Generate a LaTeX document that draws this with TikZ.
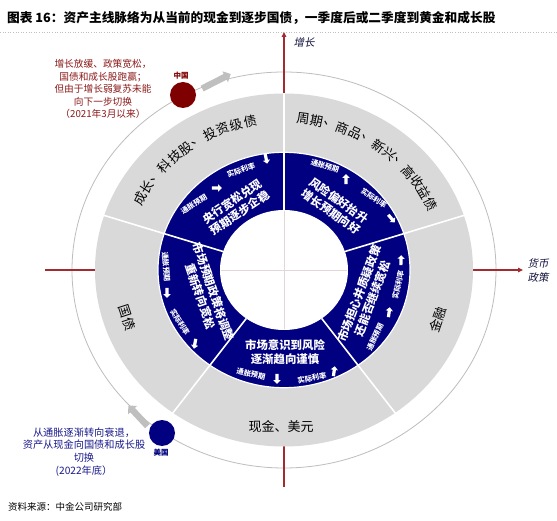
\documentclass[tikz,border=0pt]{standalone}
\usepackage{fontspec}
\setmainfont{Noto Sans CJK SC}
\newfontfamily\slantcjk[FakeSlant=0.2]{Noto Sans CJK SC}
\usetikzlibrary{shapes.arrows,arrows.meta}
\definecolor{navyring}{HTML}{000080}
\definecolor{ringgray}{HTML}{D9D9D9}
\definecolor{outline}{HTML}{BDBDBD}
\definecolor{axisred}{HTML}{A32A2E}
\definecolor{cnred}{HTML}{7F0000}
\definecolor{cntext}{HTML}{8B1A1A}
\definecolor{ustext}{HTML}{1A1A8C}
\definecolor{arrowgray}{HTML}{BFBFBF}
\definecolor{crossc}{HTML}{E3D6D6}
\definecolor{axislab}{HTML}{141440}
\tikzset{
  ringtxt/.style={font=\fontsize{13}{14}\selectfont, text=black, inner sep=0pt},
  navytxt/.style={font=\bfseries\fontsize{11.4}{13.8}\selectfont, text=white, align=center, inner sep=0pt},
  smalltxt/.style={font=\bfseries\fontsize{7.3}{8}\selectfont, text=white, inner sep=0pt},
  whitearrow/.style={single arrow, fill=white, draw=none, minimum height=10pt, inner sep=1.4pt, single arrow head extend=2pt},
  grayarrow/.style={single arrow, fill=arrowgray, draw=none, inner sep=3pt, single arrow head extend=3pt},
  axisline/.style={draw=axisred, line width=1.2pt},
  axislabel/.style={font=\slantcjk\fontsize{10.5}{14}\selectfont, text=axislab, align=center, inner sep=0pt},
}
\begin{document}
\begin{tikzpicture}[x=1pt,y=-1pt]
\useasboundingbox (0,0) rectangle (557,521);
\fill[white] (0,0) rectangle (557,521);

% title
\node[anchor=west, font=\bfseries\fontsize{12.7}{14}\selectfont, inner sep=0pt] (title) at (7,18) {图表 16：资产主线脉络为从当前的现金到逐步国债，一季度后或二季度到黄金和成长股};
\draw[black!25, dotted, line width=0.6pt] (0,32) -- (557,32);

% axes coordinates
\coordinate (ytop) at (284,32);
\coordinate (ybot) at (284,487);
\coordinate (xleft) at (45,270);
\coordinate (xright) at (523,270);

\begin{scope}[shift={(284,270)}, x=1pt, y=0.934pt]
  \draw[outline, line width=0.8pt] (0,0) circle [x radius=212pt, y radius=198pt];
\end{scope}

\draw[axisline, -{Triangle[width=4.5pt,length=5pt]}] (ybot) -- (ytop);
\draw[axisline, -{Triangle[width=4.5pt,length=5pt]}] (xleft) -- (xright);

\begin{scope}[shift={(284,270)}, x=1pt, y=0.934pt]
  \fill[ringgray] (0,0) circle [x radius=189pt, y radius=176.5pt];
  \filldraw[fill=navyring, draw=white, line width=1.2pt] (0,0) circle [x radius=126pt, y radius=117.7pt];
  \fill[white] (0,0) circle [x radius=64pt, y radius=60pt];
  \foreach \a in {18,90,162,234,306} {
    \draw[white, line width=1.6pt] (\a:64) -- (\a:189.5);
  }
  \draw[crossc, line width=0.8pt] (-63,0) -- (63,0);
  \draw[crossc, line width=0.8pt] (0,-63) -- (0,63);

  % gray ring texts along arcs
  \foreach \c [count=\i from 0] in {成,长,、,科,技,股,、,投,资,级,债} {
    \pgfmathsetmacro\ang{127+(5-\i)*5}
    \node[ringtxt, rotate=\ang-90] (ga\i) at (\ang:163) {\c};
  }
  \foreach \c [count=\i from 0] in {周,期,、,商,品,、,新,兴,、,高,收,益,债} {
    \pgfmathsetmacro\ang{54.5+(6-\i)*4.8}
    \node[ringtxt, rotate=\ang-90] (gb\i) at (\ang:163) {\c};
  }
  \node[ringtxt, rotate=71] (jinrong) at (-19:163) {金融};
  \node[ringtxt, rotate=-72] (guozhai) at (198:165) {国债};
\end{scope}
\node[ringtxt] (xianjin) at (281,427) {现金、美元};

% navy ring main texts
\node[navytxt, rotate=34] (n1) at (236,207) {央行宽松兑现\\预期逐步企稳};
\node[navytxt, rotate=-35] (n2) at (335,206) {风险偏好抬升\\增长预期向好};
\node[navytxt, rotate=69] (n3) at (366,296) {市场担心并质疑政策\\还能否继续宽松};
\node[navytxt] (n4) at (285,352) {市场意识到风险\\逐渐趋向谨慎};
\node[navytxt, rotate=-71] (n5) at (207,294) {市场预期政策将调整\\重新转向宽松};

% small labels
\node[smalltxt, rotate=32] (l1) at (194,204) {通胀预期};
\node[smalltxt, rotate=19] (l2) at (241,170) {实际利率};
\node[smalltxt, rotate=-18] (l3) at (325,166) {通胀预期};
\node[smalltxt, rotate=-34] (l4) at (374,198) {实际利率};
\node[smalltxt, rotate=78] (l5) at (398,285) {实际利率};
\node[smalltxt, rotate=65] (l6) at (375,337) {通胀预期};
\node[smalltxt, rotate=-12] (l7) at (251,374) {通胀预期};
\node[smalltxt, rotate=10] (l8) at (312,378) {实际利率};
\node[smalltxt, rotate=-85] (l9) at (166,267) {通胀预期};
\node[smalltxt, rotate=-58] (l10) at (180,322) {实际利率};

% small white arrows
\node[whitearrow, rotate=0] (a1) at (216,188) {};
\node[whitearrow, rotate=-78] (a2) at (266,158) {};
\node[whitearrow, rotate=90] (a3) at (346,180) {};
\node[whitearrow, rotate=-50] (a4) at (391,218) {};
\node[whitearrow, rotate=88] (a5) at (401,261) {};
\node[whitearrow, rotate=82] (a6) at (389,313) {};
\node[whitearrow, rotate=-90] (a7) at (277,378) {};
\node[whitearrow, rotate=82] (a8) at (334,372) {};
\node[whitearrow, rotate=-90] (a9) at (167,292) {};
\node[whitearrow, rotate=-100] (a10) at (195,343) {};

% axis labels
\node[axislabel] (growth) at (304,42) {增长};
\node[axislabel] (money) at (538,270) {货币\\政策};

% China
\node[grayarrow, minimum height=32pt, rotate=27] (cnarrow) at (215,82) {};
\node[circle, fill=cnred, minimum size=26pt, inner sep=0pt] (cn) at (183,95) {};
\node[font=\bfseries\fontsize{7.5}{8}\selectfont, text=cnred, inner sep=0pt] (cnlab) at (181,76) {中国};
\node[font=\fontsize{9.7}{12.5}\selectfont, text=cntext, align=center, inner sep=0pt] (cnnote) at (103,89) {增长放缓、政策宽松，\\国债和成长股跑赢；\\但由于增长弱复苏未能\\向下一步切换\\（2021年3月以来）};

% USA
\node[grayarrow, minimum height=28pt, rotate=133] (usarrow) at (139,417) {};
\node[circle, fill=navyring, minimum size=26pt, inner sep=0pt] (us) at (162,433) {};
\node[font=\bfseries\fontsize{7.5}{8}\selectfont, text=navyring, inner sep=0pt] (uslab) at (161,453) {美国};
\node[font=\fontsize{10.2}{12.7}\selectfont, text=ustext, align=center, inner sep=0pt] (usnote) at (84,452) {从通胀逐渐转向衰退，\\资产从现金向国债和成长股\\切换\\(2022年底）};

% source
\node[anchor=west, font=\fontsize{9.5}{11}\selectfont, inner sep=0pt] (source) at (8,507) {资料来源：中金公司研究部};
\end{tikzpicture}
\end{document}
